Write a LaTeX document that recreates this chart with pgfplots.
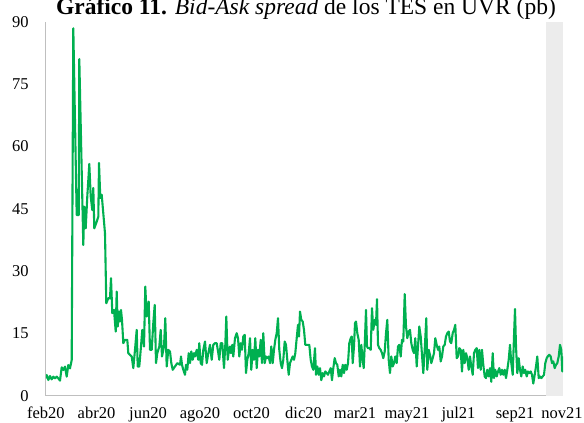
\documentclass[border=0pt]{standalone}
\usepackage{fontspec}
\setmainfont{Liberation Serif}
\usepackage{pgfplots}
\pgfplotsset{compat=1.18}
\definecolor{serie}{RGB}{0,176,80}
\definecolor{ejes}{RGB}{191,191,191}
\definecolor{sombra}{RGB}{236,236,236}
\begin{document}
\begin{tikzpicture}
\useasboundingbox (0,0) rectangle (584pt,423pt);
\begin{axis}[
  at={(45.8pt,27pt)}, anchor=south west,
  scale only axis, width=517.2pt, height=374.4pt,
  xmin=45.8, xmax=563, ymin=0, ymax=90,
  axis x line=bottom, axis y line=left,
  axis line style={ejes, line width=1pt, -},
  major tick length=0pt,
  ytick={0,15,30,45,60,75,90},
  xtick={45.8,96.5,148,200,251.5,303.5,355,407,458.5,515,562},
  xticklabels={feb20,abr20,jun20,ago20,oct20,dic20,mar21,may21,jul21,sep21,nov21},
  /pgf/number format/assume math mode=true,
  tick label style={font=\fontsize{16.5}{18}\selectfont, inner sep=0pt},
  y tick label style={anchor=east, xshift=-17pt},
  x tick label style={anchor=base, yshift=-23pt},
]
\addplot[draw=none, fill=sombra] coordinates {(546,0) (563,0) (563,90) (546,90)} -- cycle;
\addplot[serie, line width=2.1pt, line join=round, mark=none] coordinates {
(45.8,4.25)(46.7,5.05)(48.3,3.85)(50,4.8)(51.7,4.0)(53.3,4.65)(55,4.25)(56.7,4.65)(58.3,4.25)(60,3.7)
(61.7,6.9)(63.3,6.25)(65,7.05)(66.7,4.65)(68.3,7.45)(70,6.65)(71.7,8.65)(73.3,88.4)(76.7,43.5)(78.7,43.5)
(79.3,81.0)(83.3,36.3)(84.3,45.5)(85.7,40.3)(87.3,48.0)(89.3,55.8)(90.7,48.0)(92.3,44.7)(93.3,50.0)(94.3,40.3)
(96.7,41.9)(98.3,43.1)(99,56.0)(100.3,47.6)(101.7,48.4)(105,39.1)(106.3,22.3)(108.3,23.5)(110,23.5)(111,28.3)
(112.3,19.9)(114,20.7)(115.7,15.5)(116.7,25.1)(117.7,16.7)(119,20.3)(120,17.9)(121,20.7)(122,18.3)(123.3,12.7)
(125,13.5)(127.3,13.5)(128.3,10.3)(130,9.9)(131.7,9.5)(133.3,6.7)(135,11.1)(136.7,15.9)(137.7,7.1)(139.3,7.1)
(140.7,11.1)(142.3,15.9)(144,11.9)(145.3,26.3)(146.7,19.1)(148.7,22.7)(150,11.1)(151.7,11.1)(153.3,17.5)(154.7,21.9)
(156,7.9)(157.3,10.3)(159.3,11.9)(160.7,15.9)(162,9.5)(164,11.9)(165.3,18.7)(166.7,7.1)(168.3,11.1)(170,10.7)
(171.3,7.9)(172.7,6.3)(175,7.1)(177.3,7.9)(180,7.5)(181,9.5)(182,7.5)(183.3,6.3)(185,5.1)(186,7.5)
(187.3,6.3)(188.7,10.3)(190,7.9)(191.3,10.7)(192.7,8.7)(194,10.3)(195,9.5)(196.7,11.1)(198.3,8.7)(199.3,12.7)
(200.7,7.9)(202,7.5)(203.3,11.1)(205,13.1)(206.7,7.9)(208.3,10.3)(210,12.3)(211.7,8.7)(213.3,12.3)(215,12.7)
(216.7,12.7)(218.3,10.3)(219.3,8.7)(220.7,12.7)(222.3,12.7)(224,6.7)(225.3,12.3)(226.3,19.1)(227.7,8.7)(229,11.1)
(230,11.9)(231,10.3)(232.3,12.3)(233.3,9.5)(235,13.9)(236.7,15.1)(238,13.9)(239.3,9.5)(240.7,12.7)(242,11.1)
(243.3,14.3)(244.7,14.7)(246,5.5)(247.3,8.7)(248.7,10.3)(250,13.9)(251.3,6.3)(252.7,11.1)(254,8.7)(255.3,13.9)
(256.7,6.7)(258,11.1)(259.3,9.5)(260.7,13.5)(262,7.9)(263.3,15.1)(264.7,7.9)(266,9.5)(267.3,9.1)(268.7,9.5)
(270,7.9)(271.3,11.9)(272.7,7.9)(274,11.1)(275.3,13.5)(276.7,15.1)(278,18.7)(279.3,11.1)(280.7,7.9)(282,6.7)
(283.3,8.7)(284.7,13.1)(286,12.3)(287.3,8.7)(288.7,5.1)(290,7.9)(291.3,8.7)(292.7,9.5)(294,8.7)(295.3,10.3)
(296.7,13.9)(298,17.1)(299,14.3)(300,20.3)(301.3,18.3)(302.7,17.9)(304,15.9)(305.3,12.3)(306.7,12.3)(309.3,12.3)
(310.7,8.7)(312,7.1)(313.3,6.3)(315,11.5)(316,5.1)(317.3,7.1)(318.7,5.1)(320,6.7)(321.3,3.8)(322.7,5.5)
(324,4.7)(325.3,5.9)(326.7,5.5)(328,5.1)(329.3,5.9)(330.7,6.7)(332,3.8)(333.3,6.7)(334.7,9.1)(336,7.9)
(337.3,7.5)(338.7,4.7)(340,6.3)(341.3,4.7)(342.7,7.5)(344,5.5)(345.3,7.5)(346.7,6.3)(348,7.9)(349.3,12.7)
(350.7,13.9)(351.7,14.3)(352.7,7.9)(354,11.9)(355,17.5)(356,17.9)(357.3,15.1)(358.7,13.5)(360,7.1)(361.3,12.3)
(362.7,8.7)(363.7,6.7)(364.7,11.9)(366,20.7)(367,11.9)(368,11.5)(369.3,11.5)(370.7,11.1)(372,21.1)(373.3,15.9)
(374.7,18.3)(376,17.1)(377,23.3)(378,12.3)(379.3,11.5)(380.7,11.1)(382,10.3)(383.3,9.1)(384.7,10.7)(386,15.1)
(387.3,18.3)(388.7,8.7)(390,5.5)(391.3,9.5)(392.7,7.1)(394,7.9)(395.3,9.5)(396.7,7.9)(398,11.9)(399.3,12.3)
(400.7,9.5)(402,13.5)(403.3,13.1)(404.7,24.5)(406,16.7)(407.3,13.9)(408.7,15.5)(410,15.9)(411.3,12.7)(412.7,11.1)
(414,10.3)(415.3,13.9)(416.7,7.1)(418,11.9)(419.3,16.7)(420.7,14.3)(422,9.9)(423.3,5.5)(424.7,11.1)(426.3,18.7)
(427.3,6.3)(428.7,11.1)(430,9.9)(431.3,7.9)(432.7,9.1)(434,10.3)(435.3,13.9)(436.7,12.3)(438,11.1)(439.3,11.9)
(440.7,8.3)(442,9.5)(443.3,11.9)(444.7,12.3)(446,14.3)(447.3,15.1)(448.7,15.5)(450,13.1)(451.3,12.7)(452.7,15.1)
(454,15.9)(455.3,17.1)(456.7,9.1)(458,9.5)(459.3,11.5)(460.7,11.1)(462,5.9)(463.3,11.1)(464.7,7.9)(466,10.3)
(467.3,9.1)(468.7,6.3)(470,9.5)(471.3,7.1)(472.7,5.1)(474,10.3)(475.3,11.1)(476.7,11.5)(478,6.7)(479.3,11.1)
(480.7,6.3)(482,11.1)(483.3,7.5)(484.7,4.7)(486,4.3)(487.3,6.3)(488.7,4.7)(490,6.7)(491.3,3.4)(492.7,10.3)
(494,4.3)(495.3,6.3)(496.7,4.7)(498,5.9)(499.3,6.7)(500.7,5.1)(502,6.3)(503.3,5.1)(504.7,6.3)(506,4.3)
(507.3,6.3)(508.7,8.7)(510,12.3)(511.3,7.9)(512.7,5.1)(514,14.3)(515,20.9)(516,11.9)(517.3,5.5)(518.7,9.1)
(520,6.3)(521.3,4.7)(522.7,7.1)(524,5.5)(525.3,6.3)(526.7,4.7)(528,5.9)(529.3,5.5)(530.7,5.9)(532,5.1)
(533.3,3.0)(534.7,5.1)(536,7.1)(537.3,9.5)(538.7,4.3)(540,4.7)(541.3,4.3)(542.7,4.7)(544,5.1)(545.3,7.9)
(546.7,9.1)(548,9.6)(549.3,9.9)(550.7,9.5)(552,7.9)(553.3,8.3)(554.7,6.7)(556,7.5)(557.3,7.9)(558.7,9.5)
(560,12.3)(561.3,11.1)(562.3,5.9)(562.7,9.5)
};
\end{axis}
\node[anchor=base, inner sep=0pt, font=\fontsize{23.5}{26}\selectfont] at (306pt,408pt)
  {\textbf{Gráfico 11.} \textit{Bid-Ask spread} de los TES en UVR (pb)};
\end{tikzpicture}
\end{document}
